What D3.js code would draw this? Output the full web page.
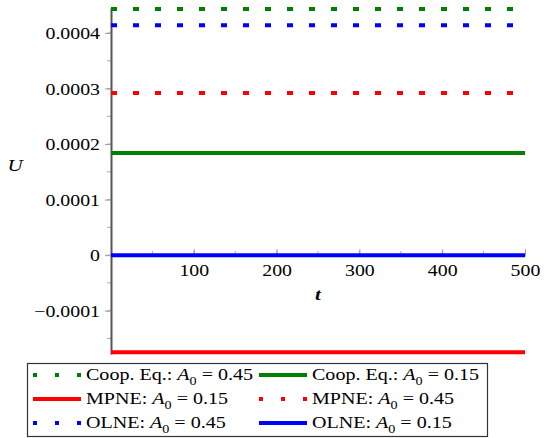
<!DOCTYPE html>
<html>
<head>
<meta charset="utf-8">
<script src="https://d3js.org/d3.v7.min.js"></script>
</head>
<body style="margin:0; background:#fff">
<div id="chart"></div>
<script>
// series: name, A0 value, level of U (constant over t), colour, dotted?
var names = ["Coop. Eq.:", "Coop. Eq.:", "MPNE:", "MPNE:", "OLNE:", "OLNE:"];
var a0 = ["0.45", "0.15", "0.15", "0.45", "0.45", "0.15"];
var levels = [0.000443, 0.000184, -0.000175, 0.000292, 0.000414, 0.0];
var colors = ["#008000", "#008000", "#ff0000", "#ff0000", "#0000ff", "#0000ff"];
var dotted = [true, false, false, true, true, false];
var tRange = [0, 500];
var yTicks = [-0.0001, 0, 0.0001, 0.0002, 0.0003, 0.0004];
var xTicks = [100, 200, 300, 400, 500];

var w = 546, h = 438;
var FONT = "'Liberation Serif', Tinos, 'Times New Roman', serif";
var SX = 1.24; // the picture is stretched sideways
var svg = d3.select("#chart").append("svg").attr("width", w).attr("height", h);

var x = d3.scaleLinear().domain([0, 500]).range([111, 525]);
var y = d3.scaleLinear().domain([-0.000178, 0.000445]).range([354, 8]);

// minor ticks
svg.append("g").selectAll("line")
  .data(d3.range(-0.00015, 0.00045, 0.00005))
  .enter().append("line")
  .attr("x1", 107).attr("x2", 111)
  .attr("y1", d => y(d)).attr("y2", d => y(d))
  .attr("stroke", "#aaa").attr("stroke-width", 1);
svg.append("g").selectAll("line")
  .data(d3.range(50, 500, 50))
  .enter().append("line")
  .attr("x1", d => x(d)).attr("x2", d => x(d))
  .attr("y1", y(0)).attr("y2", y(0) - 4)
  .attr("stroke", "#aaa").attr("stroke-width", 1);

// y axis
var yAxis = svg.append("g").attr("transform", "translate(" + x(0) + ",0)")
  .call(d3.axisLeft(y).tickValues(yTicks).tickSize(6).tickSizeOuter(0)
    .tickFormat(d => d === 0 ? "0" : (d < 0 ? "\u22120.0001" : d3.format(".4f")(d))));
yAxis.select(".domain").attr("stroke", "#555").attr("stroke-width", 2);
yAxis.selectAll(".tick line").attr("stroke", "#999");
yAxis.selectAll(".tick text")
  .style("font-family", FONT).style("font-size", "16px").attr("fill", "#000")
  .attr("x", -11 / SX).attr("dy", "0.35em").attr("transform", "scale(" + SX + ",1)");

// x axis at U = 0
var xAxis = svg.append("g").attr("transform", "translate(0," + y(0) + ")")
  .call(d3.axisBottom(x).tickValues(xTicks).tickSize(-6).tickSizeOuter(0));
xAxis.select(".domain").attr("stroke", "#555").attr("stroke-width", 1.5);
xAxis.selectAll(".tick text")
  .style("font-family", FONT).style("font-size", "16px").attr("fill", "#000")
  .attr("y", 10).attr("transform", "scale(" + SX + ",1)");
xAxis.selectAll(".tick line").attr("stroke", "#999");

// axis labels
svg.append("text").attr("transform", "translate(318,300) scale(" + SX + ",1)").attr("text-anchor", "middle")
  .style("font-family", FONT).style("font-size", "17px").style("font-style", "italic").style("font-weight", "bold").text("t");
svg.append("text").attr("transform", "translate(15,171) scale(" + SX + ",1)").attr("text-anchor", "middle")
  .style("font-family", FONT).style("font-size", "17px").style("font-style", "italic").text("U");

// lines
var idx = d3.range(levels.length);
svg.append("g").selectAll("line")
  .data(idx).enter().append("line")
  .attr("x1", x(tRange[0])).attr("x2", i => dotted[i] ? x(tRange[1]) - 10 : x(tRange[1]))
  .attr("y1", i => y(levels[i])).attr("y2", i => y(levels[i]))
  .attr("stroke", i => colors[i])
  .attr("stroke-width", 4)
  .attr("stroke-dasharray", i => dotted[i] ? "6,16" : null);

// legend
var lg = svg.append("g");
lg.append("rect").attr("x", 27.5).attr("y", 363.5).attr("width", 460).attr("height", 73)
  .attr("fill", "#fff").attr("stroke", "#333").attr("stroke-width", 1.2);
var colX = [33, 259], rowY = [375, 399, 423];
idx.forEach(function(i) {
  var cx = colX[i % 2], cy = rowY[Math.floor(i / 2)];
  lg.append("line").attr("x1", cx).attr("x2", cx + 48).attr("y1", cy).attr("y2", cy)
    .attr("stroke", colors[i]).attr("stroke-width", 4)
    .attr("stroke-dasharray", dotted[i] ? "4,18" : null);
  var t = lg.append("text").attr("transform", "translate(" + (cx + 53) + "," + (cy + 5) + ") scale(1.18,1)")
    .style("font-family", FONT).style("font-size", "17px");
  t.append("tspan").text(names[i] + " ");
  t.append("tspan").style("font-style", "italic").text("A");
  t.append("tspan").style("font-size", "12px").attr("dy", 5).text("0");
  t.append("tspan").attr("dy", -5).text(" = " + a0[i]);
});
</script>
</body>
</html>
